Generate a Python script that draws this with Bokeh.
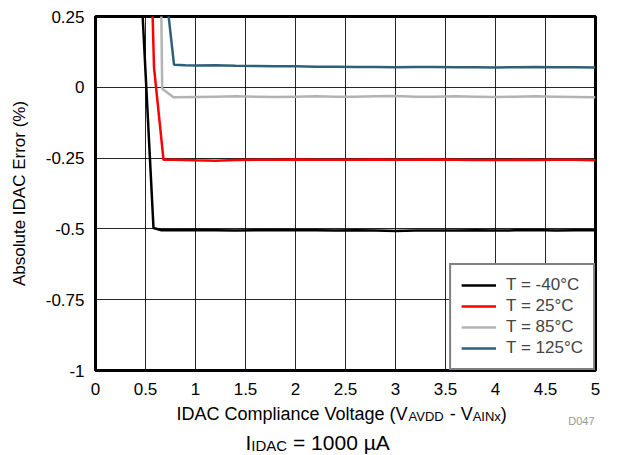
from bokeh.plotting import figure
from bokeh.layouts import column
from bokeh.models import Range1d, FixedTicker, Label, Legend, LegendItem
from bokeh.embed import file_html
from bokeh.resources import INLINE

# ---- data ----
x_m40 = [0.45, 0.58, 0.66, 0.8, 1.0, 1.2, 1.4, 1.6, 1.8, 2.0, 2.2, 2.4, 2.6, 2.8, 3.0, 3.2, 3.4, 3.6, 3.8, 4.0, 4.2, 4.4, 4.6, 4.8, 5.0]
y_m40 = [0.40, -0.497, -0.505, -0.505, -0.504, -0.505, -0.506, -0.505, -0.504, -0.505, -0.505, -0.506, -0.505, -0.506, -0.507, -0.506, -0.506, -0.506, -0.505, -0.506, -0.505, -0.504, -0.506, -0.505, -0.505]

x_25 = [0.56, 0.585, 0.68, 0.8, 1.0, 1.2, 1.4, 1.6, 1.8, 2.0, 2.2, 2.4, 2.6, 2.8, 3.0, 3.2, 3.4, 3.6, 3.8, 4.0, 4.2, 4.4, 4.6, 4.8, 5.0]
y_25 = [0.40, 0.07, -0.256, -0.256, -0.258, -0.259, -0.257, -0.256, -0.256, -0.255, -0.256, -0.256, -0.256, -0.255, -0.256, -0.256, -0.255, -0.256, -0.257, -0.257, -0.256, -0.257, -0.256, -0.256, -0.258]

x_85 = [0.655, 0.667, 0.78, 1.0, 1.2, 1.4, 1.6, 1.8, 2.0, 2.2, 2.4, 2.6, 2.8, 3.0, 3.2, 3.4, 3.6, 3.8, 4.0, 4.2, 4.4, 4.6, 4.8, 5.0]
y_85 = [0.35, -0.005, -0.035, -0.034, -0.033, -0.032, -0.033, -0.034, -0.033, -0.032, -0.033, -0.033, -0.032, -0.031, -0.033, -0.033, -0.032, -0.033, -0.034, -0.033, -0.032, -0.033, -0.034, -0.035]

x_125 = [0.70, 0.785, 0.9, 1.0, 1.2, 1.4, 1.6, 1.8, 2.0, 2.2, 2.4, 2.6, 2.8, 3.0, 3.2, 3.4, 3.6, 3.8, 4.0, 4.2, 4.4, 4.6, 4.8, 5.0]
y_125 = [0.35, 0.080, 0.078, 0.077, 0.078, 0.076, 0.075, 0.074, 0.074, 0.073, 0.073, 0.072, 0.072, 0.071, 0.072, 0.072, 0.071, 0.071, 0.070, 0.071, 0.072, 0.071, 0.071, 0.070]

series_names = ["T = -40°C", "T = 25°C", "T = 85°C", "T = 125°C"]
series_colors = ["#000000", "#ff0000", "#b3b3b3", "#2f6079"]

x_ticks = [0, 0.5, 1, 1.5, 2, 2.5, 3, 3.5, 4, 4.5, 5]
x_tick_labels = ["0", "0.5", "1", "1.5", "2", "2.5", "3", "3.5", "4", "4.5", "5"]
y_ticks = [0.25, 0, -0.25, -0.5, -0.75, -1]
y_tick_labels = ["0.25", "0", "-0.25", "-0.5", "-0.75", "-1"]

FONT = "Liberation Sans"
NB = "\u00a0"

# Arial / Liberation Sans advance widths (per 1000 em)
W = {" ": 278, NB: 278, "(": 333, ")": 333, "-": 333, "%": 889, ".": 278, "=": 584, "°": 400, "µ": 577,
     "0": 556, "1": 556, "A": 667, "C": 722, "D": 722, "E": 667, "I": 278, "N": 722, "V": 667,
     "a": 556, "b": 556, "c": 500, "e": 556, "g": 556, "i": 222, "l": 222, "m": 833, "n": 556,
     "o": 556, "p": 556, "r": 333, "s": 500, "t": 278, "u": 556, "x": 500}

def tw(s, size):
    return sum(W[c] for c in s) * size / 1000.0

WIDTH = 626
LB, RB = 95, 31          # left / right borders shared by all stacked figures
TOP_H = 3                # thin rule at the very top
FRAME_TOP, FRAME_BOTTOM = 16, 370
BOTTOM_B = 33
Y0 = FRAME_BOTTOM + BOTTOM_B   # where the text strip starts

# ---- thin rule at the very top (whole strip filled) ----
top = figure(width=WIDTH, height=TOP_H, output_backend="svg", toolbar_location=None, title=None,
             x_range=Range1d(0, 1), y_range=Range1d(0, 1),
             x_axis_type=None, y_axis_type=None,
             min_border_left=LB, min_border_right=RB, min_border_top=0, min_border_bottom=0)
top.outline_line_color = None
top.xgrid.visible = False
top.ygrid.visible = False
top.border_fill_color = "#222222"
top.background_fill_color = "#222222"

# ---- main chart ----
fig = figure(width=WIDTH, height=Y0 - TOP_H, output_backend="svg", toolbar_location=None, title=None,
             x_range=Range1d(0, 5), y_range=Range1d(-1, 0.25),
             min_border_left=LB, min_border_right=RB,
             min_border_top=FRAME_TOP - TOP_H, min_border_bottom=BOTTOM_B)

fig.outline_line_color = "black"
fig.outline_line_width = 3

fig.xaxis.ticker = FixedTicker(ticks=x_ticks)
fig.yaxis.ticker = FixedTicker(ticks=y_ticks)
fig.xaxis.major_label_overrides = dict(zip(x_ticks, x_tick_labels))
fig.yaxis.major_label_overrides = dict(zip(y_ticks, y_tick_labels))
for ax in (fig.xaxis[0], fig.yaxis[0]):
    ax.axis_line_color = None
    ax.major_tick_line_color = None
    ax.minor_tick_line_color = None
    ax.major_tick_out = 0
    ax.major_tick_in = 0
    ax.major_label_text_font = FONT
    ax.major_label_text_font_size = "17px"
    ax.major_label_text_color = "black"
fig.xaxis.major_label_standoff = 12
fig.yaxis.major_label_standoff = 11

fig.yaxis.axis_label = "Absolute IDAC Error (%)"
fig.yaxis.axis_label_text_font = FONT
fig.yaxis.axis_label_text_font_size = "17px"
fig.yaxis.axis_label_text_font_style = "normal"
fig.yaxis.axis_label_text_color = "black"
fig.yaxis.axis_label_standoff = 14

fig.xgrid.ticker = FixedTicker(ticks=x_ticks)
fig.ygrid.ticker = FixedTicker(ticks=y_ticks)
for g in (fig.xgrid[0], fig.ygrid[0]):
    g.grid_line_color = "black"
    g.grid_line_width = 1
    g.grid_line_alpha = 0.85

xs = [x_m40, x_25, x_85, x_125]
ys = [y_m40, y_25, y_85, y_125]
items = []
for x, y, name, c in zip(xs, ys, series_names, series_colors):
    r = fig.line(x, y, line_color=c, line_width=2.5)
    items.append(LegendItem(label=name, renderers=[r]))

legend = Legend(items=items, location="bottom_right", margin=0, padding=10, spacing=1,
                label_text_font=FONT, label_text_font_size="17px",
                glyph_width=35, glyph_height=20, label_height=20, label_standoff=10,
                border_line_color="black", border_line_width=2, background_fill_alpha=1)
fig.add_layout(legend)

# ---- text strip below: axis title with subscripts, caption, figure id ----
# ranges in (approximate) page pixels, so that label positions read like page coordinates
txt = figure(width=WIDTH, height=455 - Y0, output_backend="svg", toolbar_location=None, title=None,
             x_range=Range1d(LB, WIDTH - RB), y_range=Range1d(455, Y0),
             x_axis_type=None, y_axis_type=None,
             min_border_left=LB, min_border_right=RB, min_border_top=0, min_border_bottom=0)
txt.outline_line_color = None
txt.xgrid.visible = False
txt.ygrid.visible = False

def rich(parts, x0, base):
    off = 0.0
    for s, sz, dy in parts:
        txt.add_layout(Label(x=x0 + off, y=base + dy, text=s,
                             text_font=FONT, text_font_size=f"{sz}px", text_color="black",
                             text_align="left", text_baseline="alphabetic"))
        off += tw(s, sz)

rich([("IDAC" + NB + "Compliance" + NB + "Voltage" + NB + "(V", 18, 0), ("AVDD", 13, 3),
      (NB + "-" + NB + "V", 18, 0), ("AINx", 13, 3), (")", 18, 0)], 176, 413)
rich([("I", 21, 0), ("IDAC", 15, 3), (NB + "=" + NB + "1000" + NB + "µA", 21, 0)], 245, 442)

txt.add_layout(Label(x=WIDTH - RB - 1, y=420, text="D047", text_font=FONT, text_font_size="11px",
                     text_color="#999999", text_align="right", text_baseline="alphabetic"))

p = column(top, fig, txt, spacing=0)

open("out.html", "w").write(file_html(p, INLINE))
